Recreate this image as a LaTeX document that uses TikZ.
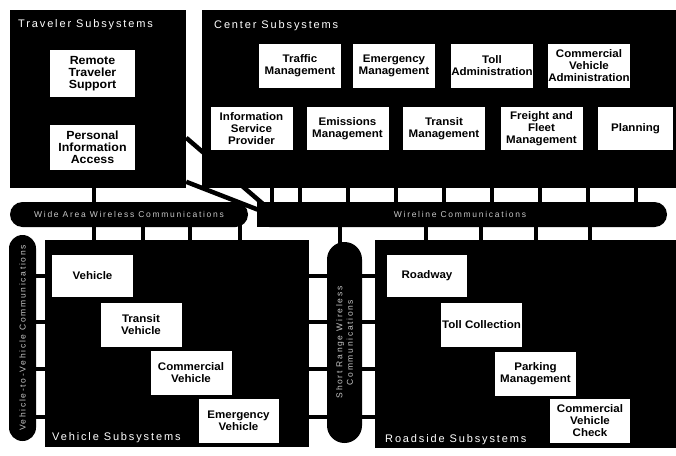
\documentclass[tikz,border=0pt]{standalone}
\usepackage{fontspec}
\setmainfont{Liberation Sans}
\newfontfamily\itemfont[FakeStretch=1.05]{Liberation Sans}
\newfontfamily\titlefont[LetterSpace=17]{Liberation Sans}
\newfontfamily\barfont[LetterSpace=20]{Liberation Sans}
\begin{document}
\begin{tikzpicture}[x=1pt,y=-1pt,
  blk/.style={fill=black, draw=none, inner sep=0pt},
  item/.style={fill=white, draw=none, inner sep=0pt, align=center,
    minimum width=82pt, minimum height=44pt,
    font=\itemfont\fontsize{11}{12}\selectfont\bfseries},
  bigitem/.style={item, font=\itemfont\fontsize{11.8}{12}\selectfont\bfseries},
  ttl/.style={anchor=base west, text=white, inner sep=0pt,
    font=\titlefont\fontsize{11}{13}\selectfont},
  bartext/.style={text=white!78!black, align=center,
    font=\barfont\fontsize{8.5}{10.5}\selectfont},
  stub/.style={line width=3.5pt, draw=black},
  diag/.style={line width=4.5pt, draw=black}]

\useasboundingbox (0,0) rectangle (676,455);
\fill[white] (0,0) rectangle (676,455);

% Traveler subsystems
\node[blk, minimum width=176pt, minimum height=178pt] (tb) at (98,99) {};
\node[ttl] (tbt) at (18,27) {Traveler Subsystems};
\node[bigitem, minimum width=85pt, minimum height=47pt] (rts) at (92.5,73.5) {Remote\\Traveler\\Support};
\node[bigitem, minimum width=85pt, minimum height=45pt] (pia) at (92.5,147.5) {Personal\\Information\\Access};

% Communication bars
\node[blk, minimum width=238pt, minimum height=25pt, rounded corners=12.5pt,
  bartext] (wless) at (129,214.5) {Wide Area Wireless Communications};
\node[blk, minimum width=410pt, minimum height=25pt, rounded corners=12.5pt] (wline) at (462,214.5) {};
\fill[black] (wline.north west) rectangle ([xshift=14pt]wline.south west);
\node[bartext] (wlinet) at (460,214.5) {Wireline Communications};

% diagonal links traveler -> wireline
\path (tb.north east) ++(0,128) coordinate (dA1);
\path (tb.north east) ++(0,172) coordinate (dB1);
\path (wline.north west) ++(6,2) coordinate (dA2);
\path (wline.north west) ++(4,9) coordinate (dB2);
\draw[diag] (dA1) -- (dA2);
\draw[diag] (dB1) -- (dB2);

% Center subsystems
\node[blk, minimum width=474pt, minimum height=178pt] (cb) at (439,99) {};
\node[ttl] (cbt) at (214,28) {Center Subsystems};
\node[item] (tm)  at (300,66) {Traffic\\Management};
\node[item] (em)  at (394,66) {Emergency\\Management};
\node[item] (ta)  at (492,66) {Toll\\Administration};
\node[item] (cva) at (589,66) {Commercial\\Vehicle\\Administration};
\node[item, minimum height=43pt] (isp) at (251.5,128.5) {Information\\Service\\Provider};
\node[item, minimum height=43pt] (emm) at (347.5,128.5) {Emissions\\Management};
\node[item, minimum height=43pt] (trm) at (444,128.5) {Transit\\Management};
\node[item, minimum height=43pt] (ffm) at (541.5,128.5) {Freight and\\Fleet\\Management};
\node[item, minimum height=43pt, minimum width=75pt] (plan) at (635.5,128.5) {Planning};

% Vehicle subsystems
\node[blk, minimum width=264pt, minimum height=207pt] (vb) at (177,343.5) {};
\node[ttl] (vbt) at (52,440) {Vehicle Subsystems};
\node[item, minimum width=81pt, minimum height=42pt] (veh) at (92.5,276) {Vehicle};
\node[item, minimum width=81pt] (tv) at (141,324.5) {Transit\\Vehicle};
\node[item, minimum width=81pt] (cv) at (191,372.5) {Commercial\\Vehicle};
\node[item, minimum width=80pt] (ev) at (238.5,421) {Emergency\\Vehicle};

% Roadside subsystems
\node[blk, minimum width=301pt, minimum height=208pt] (rb) at (525.5,344) {};
\node[ttl] (rbt) at (385,442) {Roadside Subsystems};
\node[item, minimum width=80pt, minimum height=42pt] (road) at (427,276) {Roadway};
\node[item, minimum width=81pt] (tc) at (481.5,325) {Toll Collection};
\node[item, minimum width=81pt] (pm) at (535.5,373.5) {Parking\\Management};
\node[item, minimum width=80pt] (cvc) at (590,421) {Commercial\\Vehicle\\Check};

% vertical pills
\node[blk, rotate=90, minimum width=206pt, minimum height=27pt, rounded corners=13.5pt,
  bartext] (v2v) at (22.5,338) {Vehicle-to-Vehicle Communications};
\node[blk, rotate=90, minimum width=201pt, minimum height=35pt, rounded corners=17.5pt,
  bartext] (srw) at (344.5,342.5) {Short Range Wireless\\Communications};

% stubs: center -> wireline
\foreach \x in {272,300,348,396,444,492,540,588,636} {
  \coordinate (c) at (\x,0);
  \draw[stub] (cb.south -| c) -- (wline.north -| c);
}
% traveler -> wireless
\coordinate (c94) at (94,0);
\draw[stub] (tb.south -| c94) -- (wless.north -| c94);
% wireless -> vehicle
\foreach \x in {94,143,190,240} {
  \coordinate (c) at (\x,0);
  \draw[stub] ([yshift=2pt]wless.south -| c) -- (vb.north -| c);
}
% wireline -> roadside pill and roadside
\coordinate (c340) at (340,0);
\draw[stub] (wline.south -| c340) -- ([yshift=-4pt]srw.east -| c340);
\foreach \x in {426,481,536,590} {
  \coordinate (c) at (\x,0);
  \draw[stub] (wline.south -| c) -- (rb.north -| c);
}
% horizontal stubs
\foreach \y in {276,322,369,417} {
  \coordinate (c) at (0,\y);
  \draw[stub] ([xshift=-2pt]v2v.south |- c) -- (vb.west |- c);
  \draw[stub] (vb.east |- c) -- ([xshift=2pt]srw.north |- c);
  \draw[stub] ([xshift=-2pt]srw.south |- c) -- (rb.west |- c);
}
\end{tikzpicture}
\end{document}
